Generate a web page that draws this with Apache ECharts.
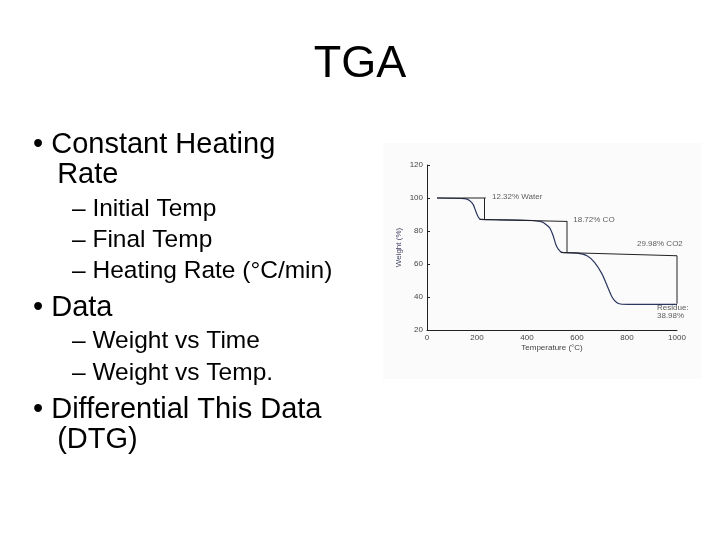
<!DOCTYPE html><html><head><meta charset="utf-8"><script src="https://cdn.jsdelivr.net/npm/echarts@6/dist/echarts.min.js"></script>
<style>html,body{margin:0;background:#fff}#c{width:720px;height:540px}</style></head><body><div id="c"></div><script>
const title="TGA";
const bullets=[["• Constant Heating",0,145],["   Rate",0,175],["– Initial Temp",1,210],["– Final Temp",1,241],["– Heating Rate (°C/min)",1,272],["• Data",0,308],["– Weight vs Time",1,342],["– Weight vs Temp.",1,374],["• Differential This Data",0,410],["   (DTG)",0,440]];
const temps=[40,150,170,185,195,205,215,300,400,460,490,505,515,525,540,600,640,670,700,720,740,760,780,850,1000];
const weight=[100,99.6,98.5,96,92,88.5,87,86.8,86.5,85.5,82,77,72,69,67,66.6,65,61,54,47,40,36.5,35.6,35.5,35.5];
const brackets=[[[40,100],[235,100]],[[230,100],[230,87]],[[210,87],[560,85.8]],[[560,86],[560,67]],[[535,67],[1000,65]],[[1000,65],[1000,36]]];
const notes=[[240,101,"12.32% Water"],[565,86.5,"18.72% CO"],[820,72,"29.98% CO2"],[900,31,"Residue:\n38.98%"]];
const xTicks=[0,200,400,600,800,1000],yTicks=[20,40,60,80,100,120];
const ch=echarts.init(document.getElementById('c'));
const g=[{type:'text',left:'center',top:42,style:{text:title,font:'45px "Liberation Sans"',fill:'#000'}}];
bullets.forEach(b=>g.push({type:'text',left:b[1]?72:33,top:b[2]-(b[1]?13:15),style:{text:b[0],font:(b[1]?'24.5px':'29px')+' "Liberation Sans"',fill:'#000'}}));
g.push({type:'rect',shape:{x:383,y:143,width:318,height:236},style:{fill:'#fbfbfb'},z:-1});
const ser=[{type:'line',data:temps.map((t,i)=>[t,weight[i]]),smooth:0.2,symbol:'none',lineStyle:{color:'#2a3560',width:1.2}}];
brackets.forEach(b=>ser.push({type:'line',data:b,symbol:'none',lineStyle:{color:'#222',width:1}}));
ser.push({type:'scatter',symbolSize:0,data:notes.map(n=>({value:[n[0],n[1]],label:{show:true,formatter:n[2],position:'right',fontSize:8,color:'#333',fontFamily:'Liberation Sans'}}))});
ch.setOption({animation:false,graphic:g,grid:{left:427,right:43,top:165,bottom:210},
xAxis:{type:'value',min:0,max:1000,interval:200,name:'Temperature (°C)',nameLocation:'middle',nameGap:14,nameTextStyle:{fontSize:8,color:'#444'},axisLabel:{fontSize:8,color:'#444',margin:4,formatter:v=>String(v)},axisLine:{lineStyle:{color:'#222'}},axisTick:{show:false},splitLine:{show:false}},
yAxis:{type:'value',min:20,max:120,interval:20,name:'Weight (%)',nameLocation:'middle',nameGap:24,nameTextStyle:{fontSize:8,color:'#446'},axisLabel:{fontSize:8,color:'#444',margin:4},axisLine:{show:true,lineStyle:{color:'#222'}},axisTick:{show:true,length:3,inside:true},splitLine:{show:false}},
series:ser});
</script></body></html>
